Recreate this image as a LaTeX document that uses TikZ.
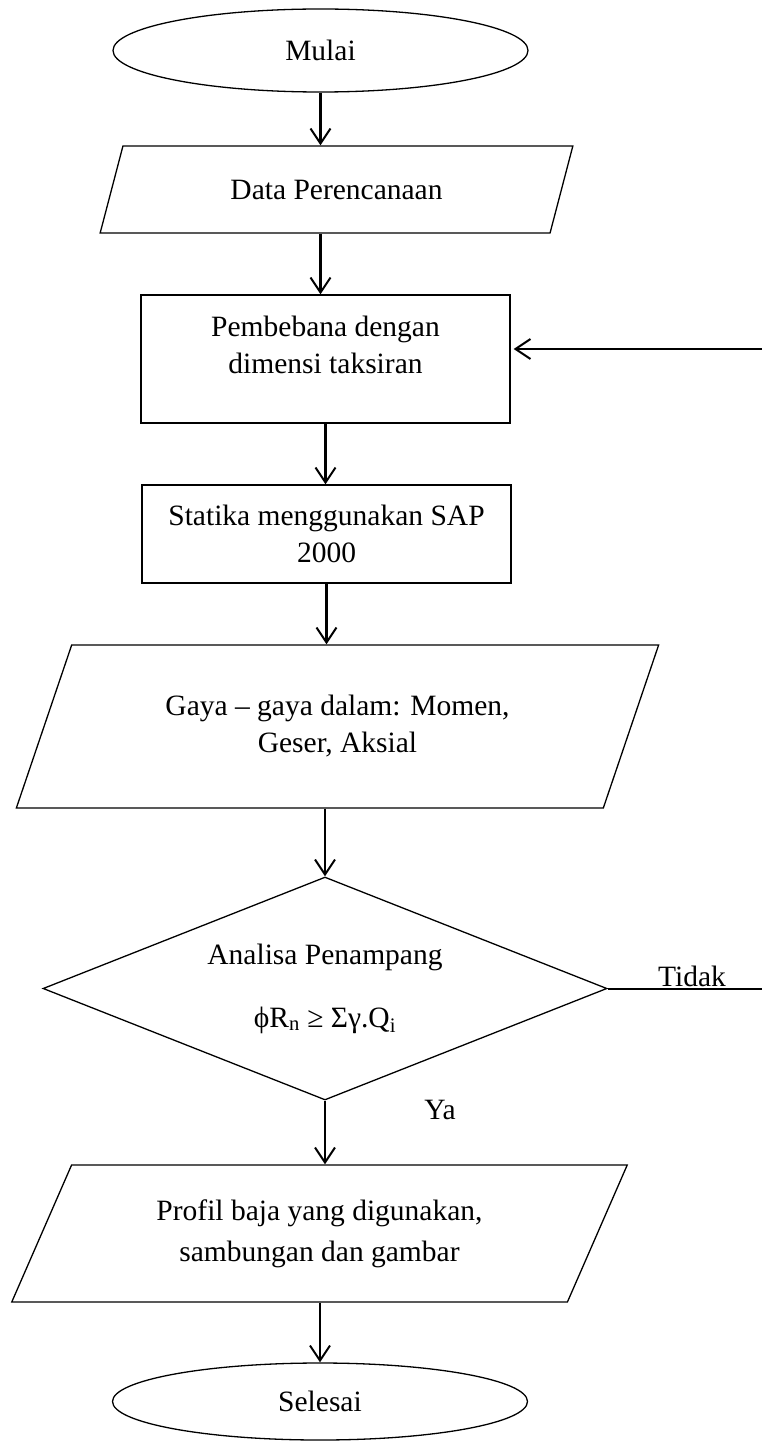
\documentclass[tikz,border=0pt]{standalone}
\usepackage{fontspec}
\setmainfont{Liberation Serif}
\usetikzlibrary{shapes.geometric,arrows.meta}

\begin{document}
\begin{tikzpicture}[
        x=1pt, y=-1pt,
        font=\fontsize{29.5}{37}\selectfont,
        term/.style={ellipse, draw, line width=1.3pt, inner sep=0pt,
                     minimum width=415pt},
        io/.style={trapezium, trapezium left angle=60, trapezium right angle=120,
                   trapezium stretches=true, draw, line width=1.3pt,
                   align=center, inner sep=0pt},
        proc/.style={rectangle, draw, line width=1.3pt, align=center,
                     minimum width=369pt, inner sep=0pt},
        cond/.style={diamond, draw, line width=1.3pt, align=center,
                     inner sep=0pt, shape aspect=2.53,
                     minimum width=564pt, minimum height=223pt},
        arw/.style={draw, line width=2.4pt,
                    -{Straight Barb[length=15pt, width=20pt, line width=2pt]}},
        line/.style={draw, line width=2pt},
    ]
    \useasboundingbox (0,0) rectangle (762,1442);

    \node[term, minimum height=83pt] (mulai) at (320.5,50.5) {Mulai};

    \node[io, minimum width=473pt, minimum height=87pt] (data) at (336.5,189.5)
        {Data Perencanaan};

    \node[proc, minimum height=128pt] (beban) at (325.5,359)
        {Pembebana dengan\\dimensi taksiran\\[-8pt]\mbox{}};

    \node[proc, minimum height=98pt] (statika) at (326.5,534)
        {Statika menggunakan SAP\\2000};

    \node[io, minimum width=645pt, minimum height=163pt] (gaya) at (337.5,726.5)
        {Gaya -- gaya dalam: Momen,\\Geser, Aksial};

    \node[cond] (cek) at (325,988.5)
        {Analisa Penampang\\[26pt]
         ϕR\textsubscript{n} ≥ Σγ.Q\textsubscript{i}};

    \node[io, minimum width=619pt, minimum height=137pt] (profil) at (319.5,1233.5)
        {Profil baja yang digunakan,\\[4pt]sambungan dan gambar};

    \node[term, minimum height=77pt] (selesai) at (320,1401.5) {Selesai};

    % arah alur
    \draw[arw] (mulai.south) -- (mulai.south |- data.north);
    \draw[arw] (mulai.south |- data.south) -- (mulai.south |- beban.north);
    \draw[arw] (beban.south) -- (beban.south |- statika.north);
    \draw[arw] (statika.south) -- (statika.south |- gaya.north);
    \draw[arw] (cek.north |- gaya.south) -- (cek.north);
    \draw[arw] (cek.south) -- (cek.south |- profil.north);
    \draw[arw] (selesai.north |- profil.south) -- (selesai.north);

    % cabang tidak / ya
    \coordinate (tepi) at (762,988);
    \coordinate (balik) at (762,349);
    \draw[line] (cek.east) -- (cek.east -| tepi);
    \node[anchor=base] (tidak) at (692,986) {Tidak};
    \node (ya) at (440,1110) {Ya};
    \draw[arw, shorten >=3pt] (balik) -- (beban.east |- balik);

\end{tikzpicture}
\end{document}
